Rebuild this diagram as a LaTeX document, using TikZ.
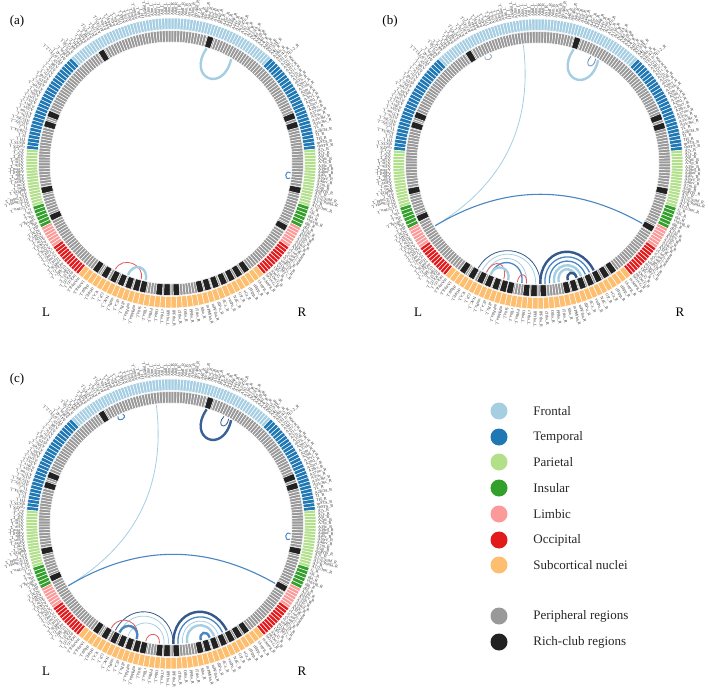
\documentclass[tikz,border=0pt]{standalone}
\usepackage{fontspec}
\setmainfont{Liberation Serif}
\usepackage{tikz}
\usetikzlibrary{calc,positioning}

\definecolor{frontal}{HTML}{A6CEE3}
\definecolor{temporal}{HTML}{1F78B4}
\definecolor{parietal}{HTML}{B2DF8A}
\definecolor{insular}{HTML}{33A02C}
\definecolor{limbic}{HTML}{FB9A99}
\definecolor{occipital}{HTML}{E31A1C}
\definecolor{subcortical}{HTML}{FDBF6F}
\definecolor{peripheral}{HTML}{999999}
\definecolor{richclub}{HTML}{222222}
\definecolor{chlight}{HTML}{A6CEE3}
\definecolor{chblue}{HTML}{4A86C1}
\definecolor{chnavy}{HTML}{35598C}
\definecolor{chred}{HTML}{E05A5E}

\tikzstyle{cell}=[draw=white, line width=0.5pt]
\tikzstyle{lbl}=[font=\fontsize{4.2}{4.5}\selectfont, inner sep=0pt, anchor=west, text=black!80]
\tikzstyle{chthin}=[line width=0.8pt]
\tikzstyle{chmid}=[line width=1.3pt]
\tikzstyle{chthick}=[line width=2.4pt]
\tikzstyle{legdot}=[circle, minimum size=17pt, inner sep=0pt]
\tikzstyle{legtext}=[font=\fontsize{13}{15}\selectfont, inner sep=0pt, text=black!85]
\tikzstyle{panel}=[font=\fontsize{13}{15}\selectfont, inner sep=0pt]

% one cell of a ring: style, start angle, end angle, inner and outer radius
\newcommand{\ringcell}[5]{\filldraw[#1] (#2:#4) arc[start angle=#2, end angle=#3, radius=#4]
  -- (#3:#5) arc[start angle=#3, end angle=#2, radius=#5] -- cycle;}

% connection between two regions, pulled towards the centre (O)
\newcommand{\chord}[4][]{\draw[#1] (#2) .. controls ($(#2)!#4!(O)$) and ($(#3)!#4!(O)$) .. (#3);}
% short round loop: controls at fraction #4 of the radius, turned by #5 and #6 degrees
\newcommand{\loopchord}[6][]{\draw[#1] (#2) .. controls ($(O)!#4!#5:(#2)$) and ($(O)!#4!#6:(#3)$) .. (#3);}

% both hemispheres: peripheral ring, lobe ring, labels, rich-club cells
\newcommand{\brainring}{%
  \coordinate (O) at (0,0);
  \foreach \s/\h in {1/L,-1/R}{
    \foreach \q in {1,...,138}{
      \pgfmathsetmacro\pa{90+(\s)*(\q-1)*1.30435}
      \pgfmathsetmacro\pb{90+(\s)*\q*1.30435}
      \ringcell{cell,fill=peripheral}{\pa}{\pb}{121}{132.5}
    }
    \foreach \lobe/\ta/\tb/\off/\cnt/\names in {
      frontal/0/43.5/0/34/{A8m,A8dl,A9l,A6dl,A6m,A9m,A10m,A9/46d,IFJ,A46,A9/46v,A8vl,A6vl,A10l,A44d,IFS,A45c,A45r,A44op,A44v,A14m,A12/47o,A11l,A11m,A13,A12/47l,A4hf,A6cdl,A4ul,A4t,A4tl,A6cvl,A1/2/3ll,A4ll},
      temporal/43.5/84.5/34/28/{A38m,A41/42,TE1.0/TE1.2,A22c,A38l,A22r,A21c,A21r,A37dl,aSTS,A20iv,A37elv,A20r,A20il,A37vl,A20cl,A20cv,A20rv,A37mv,A37lv,A35/36r,A35/36c,TL,A28/34,TI,TH,rpSTS,cpSTS},
      parietal/84.5/107.5/62/19/{A7r,A7c,A5l,A7pc,A7ip,A39c,A39rd,A40rd,A40c,A39rv,A40rv,A7m,A5m,dmPOS,A31,A1/2/3ulhf,A1/2/3tonIa,A2,A1/2/3tru},
      insular/107.5/116.5/81/6/{G,vIa,dIa,vId/vIg,dIg,dId},
      limbic/116.5/125.5/87/7/{A23d,A24rv,A32p,A23v,A24cd,A23c,A32sg},
      occipital/125.5/140.2/94/11/{cLinG,rCunG,cCunG,rLinG,vmPOS,mOccG,V5/MT+,OPC,iOccG,msOccG,lsOccG},
      subcortical/140.2/180/105/18/{mAmyg,lAmyg,rHipp,cHipp,vCa,GP,NAC,vmPu,dCa,dlPu,mPFtha,mPMtha,Stha,rTtha,PPtha,Otha,cTtha,lPFtha}}{
      \pgfmathsetmacro\w{(\tb-\ta)/\cnt}
      \foreach \nm [count=\i] in \names {
        \pgfmathtruncatemacro\idx{\off+\i}
        \pgfmathsetmacro\pa{90+(\s)*(\ta+(\i-1)*\w)}
        \pgfmathsetmacro\pb{90+(\s)*(\ta+\i*\w)}
        \pgfmathsetmacro\pc{90+(\s)*(\ta+(\i-0.5)*\w)}
        \ringcell{cell,fill=\lobe}{\pa}{\pb}{133.5}{145}
        \coordinate (\h\idx) at (\pc:120);
        \node[lbl, rotate=\pc] (t\h\idx) at (\pc:147) {\nm\_\h};
      }
    }
  }
  \foreach \s/\list in {1/{32,68,72.6,102,114.5,145,149.5,153.8,157.5,161,164.5,167.5,174.8,178.2},
                        -1/{17.5,69,73,102,119.5,145,148.7,152.4,156.2,160,163.6,167,177.6}}{
    \foreach \tc in \list {
      \pgfmathsetmacro\pa{90+(\s)*(\tc-1.4)}
      \pgfmathsetmacro\pb{90+(\s)*(\tc+1.4)}
      \ringcell{cell,fill=richclub}{\pa}{\pb}{121}{132.5}
    }
  }
}

\begin{document}
\begin{tikzpicture}[x=1pt, y=1pt]
  \useasboundingbox (0,0) rectangle (709,-692);

  % (a)
  \begin{scope}[shift={(171,-163)}]
    \brainring
    \loopchord[chthick, chlight]{R14}{R24}{0.72}{7}{-7}
    \loopchord[chthin, chblue, line width=1pt]{R71}{R73}{0.95}{2}{-2}
    \chord[chthin, chred]{L111}{L117}{0.13}
    \chord[chthick, chlight]{L114}{L118}{0.12}
  \end{scope}
  \node[panel] (labela) at (17,-21) {(a)};
  \node[panel] (La) at (46,-312) {L};
  \node[panel] (Ra) at (302,-312) {R};

  % (b)
  \begin{scope}[shift={(538,-164)}]
    \brainring
    \loopchord[chthick, chlight]{R14}{R24}{0.72}{7}{-7}
    \loopchord[chthin, chnavy!70]{R21}{R23}{0.9}{2}{-2}
    \loopchord[chthin, chnavy!50]{L19}{L21}{0.95}{-2}{2}
    \chord[chthin, chlight]{L6}{L91}{0.667}
    \chord[chthin, chblue, line width=1.1pt]{L91}{R90}{0.667}
    \chord[chthin, chnavy]{L110}{R123}{0.29}
    \chord[chthin, chlight]{L111}{L123}{0.26}
    \chord[chthin, chlight]{L112}{L121}{0.22}
    \chord[chmid, chblue]{L113}{L120}{0.18}
    \chord[chthin, chred]{L112}{L116}{0.14}
    \chord[chthick, chlight]{L113}{L117}{0.11}
    \chord[chthin, chred]{L119}{L121}{0.09}
    \chord[chthick, chnavy]{R123}{R111}{0.29}
    \chord[chmid, chblue]{R122}{R112}{0.24}
    \chord[chmid, chblue]{R121}{R113}{0.2}
    \chord[chthick, chlight]{R120}{R114}{0.16}
    \chord[chthick, chlight]{R119}{R115}{0.12}
    \chord[chthick, chnavy]{R117}{R115}{0.07}
  \end{scope}
  \node[panel] (labelb) at (390,-21) {(b)};
  \node[panel] (Lb) at (418,-312) {L};
  \node[panel] (Rb) at (680,-312) {R};

  % (c)
  \begin{scope}[shift={(171,-524)}]
    \brainring
    \loopchord[chthick, chnavy!80!chblue]{R14}{R24}{0.72}{7}{-7}
    \loopchord[chthin, chnavy]{R21}{R23}{0.9}{2}{-2}
    \loopchord[chthin, chblue, line width=1pt]{L19}{L21}{0.95}{-2}{2}
    \loopchord[chthin, chblue, line width=1pt]{R71}{R73}{0.95}{2}{-2}
    \chord[chthin, chlight]{L6}{L91}{0.667}
    \chord[chthin, chblue, line width=1.1pt]{L91}{R90}{0.667}
    \chord[chthin, chnavy]{L111}{R123}{0.29}
    \chord[chthin, chlight]{L112}{L123}{0.25}
    \chord[chthin, chlight]{L114}{L122}{0.19}
    \chord[chthin, chred]{L110}{L116}{0.15}
    \chord[chthick, chblue]{L112}{L116}{0.11}
    \chord[chthin, chred]{L118}{L121}{0.09}
    \chord[chthick, chnavy]{R123}{R111}{0.29}
    \chord[chmid, chblue]{R122}{R112}{0.24}
    \chord[chthin, chlight]{R121}{R113}{0.2}
    \chord[chthick, chlight]{R120}{R114}{0.16}
    \chord[chthick, chblue]{R117}{R115}{0.07}
  \end{scope}
  \node[panel] (labelc) at (17,-379) {(c)};
  \node[panel] (Lc) at (46,-671) {L};
  \node[panel] (Rc) at (302,-671) {R};

  % legend
  \foreach \y/\c/\txt [count=\n] in {411/frontal/Frontal, 437/temporal/Temporal,
      462/parietal/Parietal, 488/insular/Insular, 514/limbic/Limbic,
      540/occipital/Occipital, 565/subcortical/Subcortical nuclei,
      616/peripheral/Peripheral regions, 642/richclub/Rich-club regions}{
    \node[legdot, fill=\c] (dot\n) at (499,-\y) {};
    \node[legtext, right=25.5pt of dot\n] (leg\n) {\txt};
  }
\end{tikzpicture}
\end{document}
